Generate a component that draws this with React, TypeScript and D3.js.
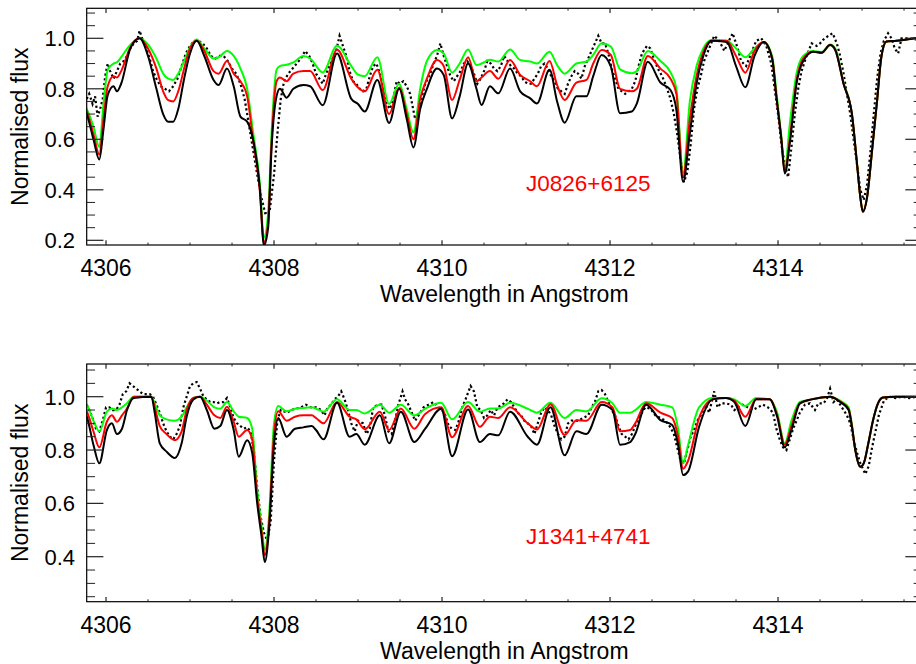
import React from 'react';
import * as d3 from 'd3';

// ---------------- Top panel (J0826+6125) ----------------
const topWave = [4305.70,4305.77,4305.85,4305.92,4305.97,4306.02,4306.09,4306.13,4306.18,4306.29,4306.40,4306.50,4306.60,4306.68,4306.74,4306.80,4306.86,4306.93,4307.00,4307.08,4307.17,4307.28,4307.34,4307.44,4307.52,4307.60,4307.68,4307.75,4307.83,4307.88,4307.93,4307.97,4308.03,4308.07,4308.15,4308.23,4308.35,4308.43,4308.58,4308.75,4308.92,4309.00,4309.08,4309.23,4309.37,4309.49,4309.58,4309.66,4309.74,4309.82,4309.94,4310.02,4310.12,4310.21,4310.31,4310.41,4310.47,4310.57,4310.67,4310.81,4310.93,4311.05,4311.13,4311.28,4311.37,4311.46,4311.60,4311.72,4311.80,4311.90,4312.01,4312.12,4312.26,4312.32,4312.45,4312.60,4312.72,4312.79,4312.87,4312.95,4313.03,4313.11,4313.21,4313.39,4313.50,4313.61,4313.72,4313.83,4313.93,4313.98,4314.04,4314.08,4314.14,4314.22,4314.30,4314.42,4314.52,4314.62,4314.68,4314.78,4314.88,4314.94,4314.98,4315.01,4315.06,4315.12,4315.18,4315.23,4315.29,4315.41,4315.53,4315.65,4315.75];
const topBlack = [0.73,0.70,0.60,0.52,0.64,0.775,0.81,0.79,0.82,0.96,1.0,0.93,0.80,0.70,0.67,0.67,0.72,0.84,0.94,0.99,0.93,0.835,0.815,0.88,0.81,0.69,0.67,0.60,0.41,0.18,0.25,0.56,0.77,0.80,0.765,0.80,0.815,0.81,0.735,0.94,0.76,0.74,0.71,0.835,0.665,0.80,0.68,0.568,0.72,0.80,0.88,0.855,0.683,0.77,0.90,0.80,0.736,0.81,0.782,0.88,0.79,0.762,0.742,0.875,0.75,0.666,0.77,0.77,0.85,0.934,0.888,0.703,0.71,0.742,0.907,0.825,0.795,0.716,0.432,0.623,0.82,0.93,0.99,0.985,0.89,0.806,0.93,0.985,0.92,0.77,0.60,0.465,0.584,0.82,0.91,0.947,0.943,0.973,0.955,0.82,0.70,0.505,0.37,0.313,0.37,0.557,0.755,0.926,0.987,0.99,0.995,1.0,1.0];
const topRed = [0.74,0.71,0.62,0.54,0.68,0.81,0.85,0.845,0.87,0.965,1.0,0.96,0.88,0.79,0.755,0.75,0.79,0.88,0.96,0.99,0.95,0.87,0.86,0.91,0.86,0.83,0.77,0.60,0.40,0.19,0.27,0.58,0.83,0.845,0.83,0.86,0.87,0.87,0.795,0.955,0.84,0.805,0.79,0.875,0.70,0.805,0.70,0.60,0.76,0.84,0.914,0.89,0.756,0.835,0.925,0.83,0.845,0.87,0.84,0.914,0.855,0.83,0.81,0.91,0.815,0.756,0.824,0.835,0.90,0.954,0.934,0.80,0.79,0.80,0.93,0.88,0.84,0.78,0.452,0.68,0.85,0.945,0.99,0.99,0.93,0.864,0.95,0.985,0.92,0.77,0.60,0.47,0.60,0.83,0.92,0.947,0.943,0.973,0.955,0.82,0.70,0.505,0.37,0.313,0.37,0.557,0.755,0.926,0.987,0.99,0.995,1.0,1.0];
const topGreen = [0.75,0.72,0.65,0.57,0.74,0.875,0.90,0.905,0.925,0.975,1.0,0.975,0.92,0.86,0.84,0.835,0.86,0.91,0.965,0.995,0.96,0.92,0.925,0.95,0.93,0.88,0.80,0.63,0.43,0.21,0.31,0.62,0.875,0.89,0.895,0.905,0.93,0.92,0.865,0.97,0.89,0.856,0.85,0.925,0.74,0.82,0.72,0.627,0.80,0.91,0.954,0.94,0.864,0.90,0.956,0.894,0.90,0.915,0.908,0.956,0.914,0.908,0.90,0.947,0.894,0.86,0.90,0.908,0.934,0.98,0.967,0.877,0.862,0.87,0.95,0.91,0.865,0.80,0.465,0.75,0.89,0.96,0.993,0.99,0.96,0.925,0.96,0.985,0.93,0.79,0.61,0.48,0.66,0.86,0.93,0.95,0.945,0.975,0.96,0.825,0.70,0.505,0.37,0.313,0.37,0.557,0.755,0.926,0.987,0.99,0.995,1.0,1.0];
const topObsWave = [4305.77,4305.80,4305.84,4305.87,4305.90,4305.93,4305.96,4305.99,4306.02,4306.05,4306.09,4306.13,4306.17,4306.21,4306.25,4306.29,4306.33,4306.37,4306.40,4306.44,4306.48,4306.52,4306.56,4306.60,4306.65,4306.70,4306.75,4306.80,4306.85,4306.90,4306.95,4307.00,4307.05,4307.10,4307.15,4307.20,4307.25,4307.30,4307.35,4307.40,4307.45,4307.50,4307.55,4307.60,4307.65,4307.70,4307.75,4307.80,4307.85,4307.90,4307.95,4308.00,4308.04,4308.08,4308.12,4308.17,4308.22,4308.27,4308.32,4308.37,4308.42,4308.46,4308.50,4308.54,4308.58,4308.62,4308.66,4308.70,4308.74,4308.78,4308.82,4308.86,4308.90,4308.94,4308.98,4309.02,4309.06,4309.10,4309.14,4309.18,4309.22,4309.26,4309.30,4309.34,4309.38,4309.42,4309.46,4309.50,4309.54,4309.58,4309.62,4309.68,4309.74,4309.80,4309.86,4309.90,4309.94,4309.98,4310.02,4310.06,4310.10,4310.14,4310.18,4310.22,4310.26,4310.30,4310.34,4310.38,4310.42,4310.46,4310.50,4310.54,4310.58,4310.62,4310.66,4310.70,4310.74,4310.78,4310.82,4310.86,4310.90,4310.94,4310.98,4311.02,4311.06,4311.10,4311.14,4311.18,4311.22,4311.26,4311.30,4311.34,4311.38,4311.42,4311.46,4311.50,4311.54,4311.58,4311.62,4311.66,4311.70,4311.74,4311.78,4311.82,4311.86,4311.90,4311.94,4311.98,4312.02,4312.06,4312.10,4312.14,4312.18,4312.22,4312.26,4312.30,4312.34,4312.38,4312.44,4312.48,4312.52,4312.57,4312.62,4312.67,4312.72,4312.76,4312.80,4312.84,4312.88,4312.92,4312.96,4313.00,4313.04,4313.08,4313.12,4313.18,4313.24,4313.30,4313.36,4313.40,4313.46,4313.52,4313.56,4313.62,4313.68,4313.74,4313.80,4313.86,4313.92,4313.96,4314.00,4314.04,4314.08,4314.12,4314.16,4314.20,4314.24,4314.28,4314.34,4314.40,4314.46,4314.50,4314.54,4314.60,4314.65,4314.70,4314.74,4314.78,4314.82,4314.86,4314.90,4314.94,4314.98,4315.02,4315.06,4315.10,4315.14,4315.18,4315.22,4315.26,4315.31,4315.35,4315.39,4315.43,4315.47,4315.55,4315.65,4315.75];
const topObs = [0.76,0.78,0.74,0.77,0.69,0.72,0.76,0.85,0.90,0.87,0.84,0.87,0.90,0.91,0.93,0.96,0.98,0.99,1.03,0.99,0.96,0.92,0.87,0.84,0.81,0.80,0.79,0.81,0.84,0.89,0.94,0.97,0.99,0.99,0.98,0.96,0.93,0.92,0.93,0.93,0.91,0.88,0.86,0.82,0.76,0.66,0.56,0.46,0.37,0.30,0.32,0.46,0.62,0.76,0.83,0.86,0.88,0.90,0.92,0.95,0.93,0.90,0.86,0.84,0.82,0.86,0.89,0.92,0.95,1.01,0.97,0.93,0.87,0.83,0.82,0.80,0.79,0.80,0.85,0.89,0.90,0.86,0.81,0.74,0.72,0.76,0.83,0.82,0.83,0.81,0.78,0.68,0.74,0.82,0.86,0.90,0.93,0.98,0.93,0.89,0.85,0.83,0.85,0.87,0.90,0.91,0.89,0.86,0.82,0.84,0.87,0.91,0.90,0.88,0.87,0.89,0.93,0.91,0.89,0.88,0.86,0.85,0.83,0.82,0.82,0.84,0.86,0.89,0.90,0.88,0.85,0.83,0.80,0.79,0.78,0.82,0.85,0.87,0.86,0.84,0.89,0.92,0.95,0.98,1.01,0.98,0.98,0.94,0.88,0.84,0.80,0.79,0.78,0.79,0.80,0.83,0.89,0.94,0.97,0.96,0.92,0.88,0.85,0.81,0.76,0.70,0.62,0.52,0.43,0.47,0.58,0.72,0.80,0.85,0.91,0.96,1.01,0.99,0.95,0.98,1.02,0.96,0.91,0.89,0.94,0.99,1.00,0.97,0.90,0.80,0.70,0.58,0.50,0.45,0.57,0.70,0.80,0.87,0.93,0.98,0.97,0.98,0.995,1.01,1.02,0.98,0.93,0.86,0.78,0.70,0.60,0.50,0.40,0.36,0.42,0.55,0.70,0.84,0.94,0.99,1.02,1.00,0.96,0.94,1.00,1.00,0.995,1.0];

// ---------------- Bottom panel (J1341+4741) ----------------
const botWave = [4305.70,4305.77,4305.85,4305.92,4306.01,4306.07,4306.13,4306.19,4306.25,4306.33,4306.54,4306.58,4306.64,4306.72,4306.82,4306.90,4306.96,4307.04,4307.12,4307.20,4307.29,4307.36,4307.44,4307.52,4307.58,4307.68,4307.74,4307.80,4307.85,4307.89,4307.94,4308.00,4308.05,4308.15,4308.25,4308.35,4308.45,4308.50,4308.59,4308.75,4308.90,4308.98,4309.08,4309.26,4309.37,4309.51,4309.67,4309.80,4309.99,4310.12,4310.31,4310.45,4310.57,4310.67,4310.81,4311.02,4311.13,4311.29,4311.46,4311.60,4311.72,4311.90,4312.03,4312.12,4312.24,4312.30,4312.43,4312.60,4312.74,4312.81,4312.87,4312.93,4313.06,4313.22,4313.38,4313.48,4313.61,4313.74,4313.90,4313.99,4314.08,4314.16,4314.26,4314.40,4314.62,4314.74,4314.84,4314.88,4314.92,4314.98,4315.02,4315.075,4315.13,4315.19,4315.25,4315.40,4315.75];
const botBlack = [0.95,0.925,0.82,0.75,0.875,0.90,0.86,0.88,0.95,0.995,1.0,0.94,0.825,0.794,0.77,0.825,0.925,0.99,1.0,0.95,0.88,0.89,0.95,0.875,0.775,0.837,0.79,0.60,0.48,0.38,0.50,0.82,0.92,0.85,0.88,0.885,0.89,0.875,0.84,0.977,0.85,0.86,0.82,0.93,0.825,0.944,0.83,0.88,0.955,0.777,0.952,0.83,0.86,0.855,0.944,0.85,0.82,0.96,0.78,0.87,0.86,0.97,0.95,0.82,0.83,0.86,0.97,0.912,0.894,0.82,0.706,0.72,0.887,0.99,0.995,0.98,0.89,0.99,0.99,0.925,0.81,0.875,0.975,0.99,1.0,0.98,0.95,0.887,0.80,0.737,0.75,0.825,0.91,0.975,0.997,1.0,1.0];
const botRed = [0.96,0.944,0.87,0.81,0.906,0.93,0.906,0.93,0.956,1.0,1.0,0.96,0.89,0.86,0.837,0.87,0.95,0.995,1.0,0.97,0.93,0.92,0.962,0.906,0.85,0.875,0.84,0.62,0.50,0.405,0.52,0.86,0.945,0.91,0.925,0.93,0.93,0.92,0.90,0.98,0.925,0.915,0.878,0.944,0.875,0.956,0.88,0.935,0.96,0.848,0.965,0.887,0.925,0.92,0.96,0.90,0.877,0.972,0.856,0.912,0.91,0.98,0.96,0.87,0.875,0.90,0.975,0.94,0.92,0.85,0.73,0.76,0.92,0.99,0.995,0.985,0.925,0.99,0.99,0.93,0.82,0.89,0.975,0.99,1.0,0.982,0.955,0.89,0.80,0.737,0.75,0.825,0.91,0.975,0.997,1.0,1.0];
const botGreen = [0.98,0.97,0.91,0.87,0.944,0.956,0.95,0.96,0.975,1.0,1.0,0.975,0.93,0.915,0.91,0.925,0.96,0.995,1.0,0.985,0.96,0.955,0.98,0.945,0.925,0.92,0.88,0.65,0.52,0.425,0.55,0.90,0.965,0.945,0.955,0.958,0.96,0.955,0.944,0.99,0.95,0.95,0.937,0.97,0.94,0.97,0.93,0.955,0.977,0.915,0.98,0.944,0.956,0.956,0.977,0.955,0.94,0.977,0.92,0.95,0.945,0.994,0.975,0.94,0.94,0.95,0.98,0.97,0.96,0.88,0.75,0.82,0.96,0.995,0.995,0.99,0.965,0.995,0.99,0.94,0.825,0.91,0.98,0.99,1.0,0.985,0.96,0.895,0.80,0.737,0.75,0.825,0.91,0.975,0.997,1.0,1.0];
const botObsWave = [4305.77,4305.80,4305.84,4305.88,4305.92,4305.96,4306.00,4306.04,4306.08,4306.12,4306.16,4306.20,4306.24,4306.28,4306.32,4306.36,4306.40,4306.44,4306.48,4306.52,4306.56,4306.60,4306.64,4306.68,4306.72,4306.76,4306.80,4306.84,4306.88,4306.92,4306.96,4307.00,4307.04,4307.08,4307.12,4307.16,4307.20,4307.24,4307.28,4307.32,4307.36,4307.40,4307.44,4307.48,4307.52,4307.56,4307.60,4307.64,4307.68,4307.72,4307.76,4307.80,4307.84,4307.88,4307.92,4307.96,4308.00,4308.04,4308.08,4308.12,4308.16,4308.20,4308.26,4308.32,4308.38,4308.44,4308.50,4308.56,4308.60,4308.64,4308.68,4308.72,4308.76,4308.80,4308.84,4308.88,4308.92,4308.96,4309.00,4309.06,4309.10,4309.14,4309.18,4309.24,4309.28,4309.32,4309.36,4309.40,4309.44,4309.48,4309.53,4309.56,4309.60,4309.64,4309.68,4309.72,4309.78,4309.84,4309.90,4309.96,4310.00,4310.04,4310.08,4310.12,4310.16,4310.20,4310.24,4310.28,4310.34,4310.38,4310.42,4310.46,4310.50,4310.54,4310.58,4310.62,4310.66,4310.72,4310.78,4310.82,4310.86,4310.90,4310.94,4310.98,4311.02,4311.06,4311.10,4311.14,4311.18,4311.22,4311.26,4311.30,4311.34,4311.38,4311.42,4311.46,4311.50,4311.54,4311.58,4311.62,4311.68,4311.74,4311.78,4311.82,4311.86,4311.90,4311.94,4311.98,4312.02,4312.06,4312.10,4312.14,4312.18,4312.22,4312.26,4312.30,4312.36,4312.42,4312.48,4312.54,4312.60,4312.66,4312.72,4312.76,4312.80,4312.84,4312.88,4312.92,4312.96,4313.00,4313.04,4313.10,4313.14,4313.18,4313.24,4313.28,4313.32,4313.38,4313.44,4313.48,4313.52,4313.58,4313.64,4313.70,4313.76,4313.82,4313.88,4313.94,4313.98,4314.02,4314.06,4314.10,4314.14,4314.18,4314.22,4314.26,4314.32,4314.38,4314.44,4314.48,4314.54,4314.58,4314.62,4314.66,4314.70,4314.74,4314.78,4314.82,4314.86,4314.90,4314.94,4314.98,4315.04,4315.08,4315.12,4315.16,4315.20,4315.26,4315.32,4315.40,4315.48,4315.56,4315.65,4315.75];
const botObs = [0.97,0.95,0.92,0.88,0.87,0.91,0.96,0.96,0.95,0.95,0.97,1.01,1.02,1.05,1.04,1.03,1.02,1.01,1.01,1.01,1.00,0.97,0.94,0.90,0.87,0.85,0.84,0.86,0.89,0.96,1.00,1.04,1.05,1.055,1.03,1.00,0.99,0.98,0.98,0.975,0.98,0.98,0.995,0.96,0.92,0.90,0.89,0.88,0.885,0.87,0.80,0.66,0.55,0.49,0.46,0.53,0.76,0.91,0.95,0.945,0.94,0.95,0.955,0.96,0.97,0.96,0.96,0.95,0.93,0.96,0.97,0.99,1.00,1.02,0.99,0.95,0.90,0.87,0.91,0.90,0.86,0.88,0.96,0.97,0.97,0.93,0.87,0.86,0.91,0.97,1.02,0.99,0.97,0.94,0.91,0.93,0.96,0.97,0.98,0.96,0.95,0.93,0.89,0.88,0.875,0.91,0.96,0.99,1.04,1.02,0.96,0.95,0.92,0.93,0.95,0.93,0.96,0.97,0.99,0.98,0.96,0.94,0.93,0.91,0.90,0.89,0.86,0.90,0.94,0.96,0.95,0.93,0.89,0.86,0.84,0.85,0.90,0.91,0.91,0.91,0.92,0.93,0.96,0.98,1.02,1.025,1.01,0.98,0.95,0.93,0.89,0.86,0.85,0.84,0.86,0.89,0.93,0.96,0.955,0.93,0.92,0.91,0.885,0.86,0.81,0.76,0.75,0.80,0.85,0.875,0.91,0.94,0.97,0.94,1.02,0.96,0.975,0.975,0.97,0.95,0.96,0.97,0.96,0.95,0.96,0.97,0.96,0.94,0.88,0.84,0.81,0.80,0.84,0.88,0.91,0.94,0.97,0.975,0.95,0.975,0.975,0.99,1.03,0.98,0.99,0.97,0.95,0.93,0.90,0.84,0.79,0.75,0.71,0.74,0.81,0.87,0.93,0.985,1.0,0.995,1.0,0.995,1.0,1.0];

// ---------------- Axes ----------------
const xDomain = [4305.77, 4315.714];
const xMajorTicks = [4306, 4308, 4310, 4312, 4314];
const xTickLabels = ['4306', '4308', '4310', '4312', '4314'];
const topYDomain = [0.1814, 1.1188];
const topYMajor = [0.2, 0.4, 0.6, 0.8, 1.0];
const botYDomain = [0.2313, 1.1226];
const botYMajor = [0.4, 0.6, 0.8, 1.0];
const yTickLabels = (v: number) => v.toFixed(1);

const FONT = "'Liberation Sans', Arial, Helvetica, sans-serif";
const X0 = 86.7, X1 = 922;

type PanelProps = {
  id: string; top: number; bottom: number; yDomain: number[]; yMajor: number[];
  wave: number[]; black: number[]; red: number[]; green: number[];
  obsWave: number[]; obs: number[]; label: string; labelY: number;
};

function Panel(p: PanelProps) {
  const x = d3.scaleLinear().domain(xDomain).range([X0, X1]);
  const y = d3.scaleLinear().domain(p.yDomain).range([p.bottom, p.top]);
  const smooth = (w: number[], f: number[]) =>
    d3.line<number>().x((_, i) => x(w[i])).y((v) => y(v)).curve(d3.curveMonotoneX)(f) || '';
  const linear = (w: number[], f: number[]) =>
    d3.line<number>().x((_, i) => x(w[i])).y((v) => y(v))(f) || '';
  const xMinor = d3.range(4306, 4316, 0.5).filter((v) => x(v) > X0 && x(v) < X1 && !xMajorTicks.includes(v));
  const yMinor = d3.range(0.05, 1.15, 0.05).map((v) => Math.round(v * 100) / 100)
    .filter((v) => y(v) < p.bottom - 0.5 && y(v) > p.top + 0.5 && !p.yMajor.some((m) => Math.abs(m - v) < 1e-6));
  const ylen = 16.7, xlen = 4.8;
  const tickColor = '#222';
  const cy = (p.top + p.bottom) / 2;
  return (
    <g>
      <defs>
        <clipPath id={p.id}>
          <rect x={X0} y={p.top} width={X1 - X0} height={p.bottom - p.top} />
        </clipPath>
      </defs>
      <g clipPath={`url(#${p.id})`}>
        <path d={linear(p.obsWave, p.obs)} fill="none" stroke="#000" strokeWidth={2.2} strokeDasharray="2.2 2.6" />
        <path d={smooth(p.wave, p.green)} fill="none" stroke="#00ff00" strokeWidth={2} strokeLinejoin="round" />
        <path d={smooth(p.wave, p.red)} fill="none" stroke="#ff0000" strokeWidth={2} strokeLinejoin="round" />
        <path d={smooth(p.wave, p.black)} fill="none" stroke="#000" strokeWidth={2} strokeLinejoin="round" />
      </g>
      <rect x={X0} y={p.top} width={X1 - X0} height={p.bottom - p.top} fill="none" stroke="#000" strokeWidth={1.2} />
      {xMajorTicks.map((v) => (
        <g key={'xm' + v}>
          <line x1={x(v)} x2={x(v)} y1={p.bottom} y2={p.bottom - xlen} stroke={tickColor} strokeWidth={1.2} />
          <line x1={x(v)} x2={x(v)} y1={p.top} y2={p.top + xlen} stroke={tickColor} strokeWidth={1.2} />
        </g>
      ))}
      {xMinor.map((v) => (
        <g key={'xn' + v}>
          <line x1={x(v)} x2={x(v)} y1={p.bottom} y2={p.bottom - xlen / 2} stroke={tickColor} strokeWidth={1} />
          <line x1={x(v)} x2={x(v)} y1={p.top} y2={p.top + xlen / 2} stroke={tickColor} strokeWidth={1} />
        </g>
      ))}
      {xMajorTicks.map((v, i) => (
        <text key={'xl' + v} x={x(v)} y={p.bottom + 31} textAnchor="middle" fontFamily={FONT} fontSize={23} fill="#000">{xTickLabels[i]}</text>
      ))}
      {p.yMajor.map((v) => (
        <g key={'ym' + v}>
          <line x1={X0} x2={X0 + ylen} y1={y(v)} y2={y(v)} stroke={tickColor} strokeWidth={1.2} />
          <line x1={X1} x2={X1 - ylen} y1={y(v)} y2={y(v)} stroke={tickColor} strokeWidth={1.2} />
          <text x={75} y={y(v) + 8} textAnchor="end" fontFamily={FONT} fontSize={22} fill="#000">{yTickLabels(v)}</text>
        </g>
      ))}
      {yMinor.map((v) => (
        <g key={'yn' + v}>
          <line x1={X0} x2={X0 + ylen / 2} y1={y(v)} y2={y(v)} stroke={tickColor} strokeWidth={1} />
          <line x1={X1} x2={X1 - ylen / 2} y1={y(v)} y2={y(v)} stroke={tickColor} strokeWidth={1} />
        </g>
      ))}
      <text x={(X0 + X1) / 2} y={p.bottom + 57} textAnchor="middle" fontFamily={FONT} fontSize={23} fill="#000">Wavelength in Angstrom</text>
      <text transform={`translate(28.3,${cy}) rotate(-90)`} textAnchor="middle" fontFamily={FONT} fontSize={23} fill="#000">Normalised flux</text>
      <text x={526} y={p.labelY} fontFamily={FONT} fontSize={22.5} fill="#ff0000">{p.label}</text>
    </g>
  );
}

export default function App() {
  return (
    <svg width={916} height={664} style={{ position: 'absolute', left: 0, top: 0, background: '#fff' }}>
      <rect x={0} y={0} width={916} height={664} fill="#fff" />
      <Panel id="clipTop" top={8.3} bottom={245} yDomain={topYDomain} yMajor={topYMajor}
        wave={topWave} black={topBlack} red={topRed} green={topGreen}
        obsWave={topObsWave} obs={topObs} label="J0826+6125" labelY={190.5} />
      <Panel id="clipBot" top={364} bottom={601.7} yDomain={botYDomain} yMajor={botYMajor}
        wave={botWave} black={botBlack} red={botRed} green={botGreen}
        obsWave={botObsWave} obs={botObs} label="J1341+4741" labelY={543.5} />
    </svg>
  );
}
